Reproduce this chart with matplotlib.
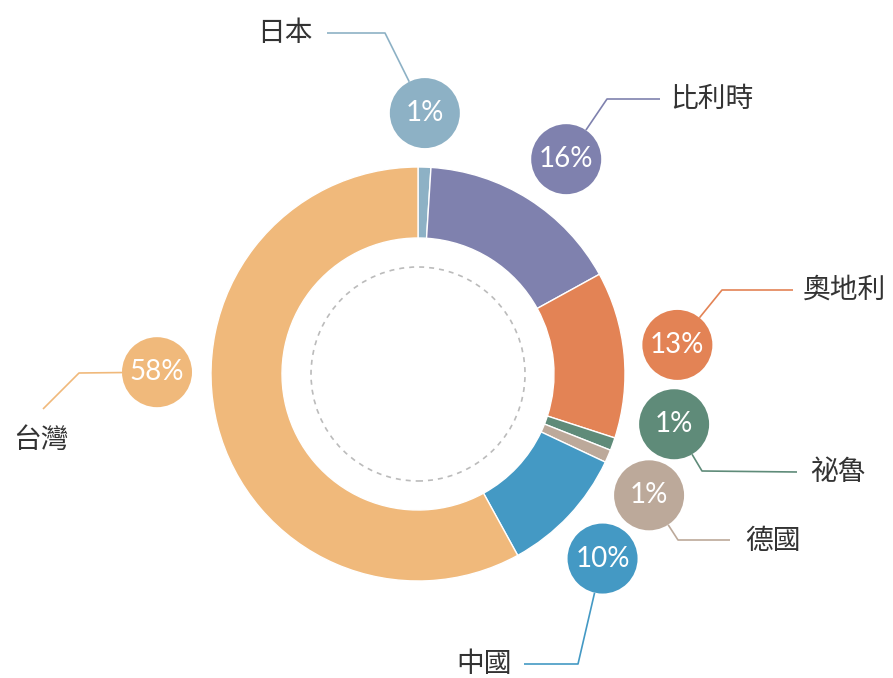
import matplotlib
matplotlib.use("Agg")
import matplotlib.pyplot as plt
from matplotlib.patches import Circle
import numpy as np

# ---- data ----
countries = ["日本", "比利時", "奧地利", "祕魯", "德國", "中國", "台灣"]
shares = [1, 16, 13, 1, 1, 10, 58]
pct_labels = ["1%", "16%", "13%", "1%", "1%", "10%", "58%"]
colors = ["#8DB1C5", "#7F81AE", "#E38355", "#5F8B79", "#BCA99A", "#4499C4", "#F0B97B"]

# ---- layout (pixel coords, image y-down) ----
W, H = 893, 678
CX, CY = 418, 374
R_OUT, R_IN = 207, 136
R_DASH = 107
R_LABEL = 261
R_BUBBLE = 35
# bubble angle offsets (deg, clockwise from top) relative to slice mid-angle, to avoid overlap
angle_offsets = [-0.3, 2.2, -1.0, -8.7, 4.3, 1.8, 14.8]
# leader polylines (after bubble edge) and text anchor
leaders = [
    dict(pts=[(385, 33), (327, 33)], txt=(313, 33), ha="right"),
    dict(pts=[(607, 99), (660, 99)], txt=(670, 99), ha="left"),
    dict(pts=[(722, 290), (793, 290)], txt=(803, 290), ha="left"),
    dict(pts=[(702, 471), (797, 472)], txt=(810, 472), ha="left"),
    dict(pts=[(678, 540), (730, 540)], txt=(745, 541), ha="left"),
    dict(pts=[(578, 664), (524, 664)], txt=(512, 664), ha="right"),
    dict(pts=[(79, 373), (43, 409)], txt=(41, 440), ha="center"),
]

fig = plt.figure(figsize=(W / 100, H / 100), dpi=100)
ax = fig.add_axes([0, 0, 1, 1])

def fy(y):
    return H - y

ax.pie(shares, colors=colors, startangle=90, counterclock=False,
       center=(CX, fy(CY)), radius=R_OUT, frame=True,
       wedgeprops=dict(width=R_OUT - R_IN, edgecolor="white", linewidth=1.0))
ax.set_xlim(0, W)
ax.set_ylim(0, H)
ax.set_aspect("equal")
ax.axis("off")

ax.add_patch(Circle((CX, fy(CY)), R_DASH, fill=False, edgecolor="#BBBBBB",
                    linestyle=(0, (3, 3)), linewidth=1.2))

cum = np.cumsum([0] + shares)
total = float(sum(shares))
for i, (name, lab, col) in enumerate(zip(countries, pct_labels, colors)):
    mid = (cum[i] + shares[i] / 2) / total * 360 + angle_offsets[i]
    th = np.deg2rad(mid)
    bx = CX + R_LABEL * np.sin(th)
    by = CY - R_LABEL * np.cos(th)
    ld = leaders[i]
    p0 = ld["pts"][0]
    d = np.array([p0[0] - bx, p0[1] - by])
    d = d / np.linalg.norm(d)
    sx, sy = bx + R_BUBBLE * d[0], by + R_BUBBLE * d[1]
    xs = [sx] + [p[0] for p in ld["pts"]]
    ys = [fy(sy)] + [fy(p[1]) for p in ld["pts"]]
    ax.plot(xs, ys, color=col, linewidth=1.2, solid_capstyle="butt", zorder=2)
    ax.add_patch(Circle((bx, fy(by)), R_BUBBLE, facecolor=col, edgecolor="none", zorder=3))
    ax.text(bx, fy(by), lab, ha="center", va="center", color="white",
            fontsize=20, family=["Lato", "DejaVu Sans"], zorder=4)
    tx, ty = ld["txt"]
    ax.text(tx, fy(ty), name, ha=ld["ha"], va="center", color="#333333",
            fontsize=20, family=["Noto Sans CJK TC", "DejaVu Sans"], zorder=4)

fig.savefig("out.png", dpi=100)
